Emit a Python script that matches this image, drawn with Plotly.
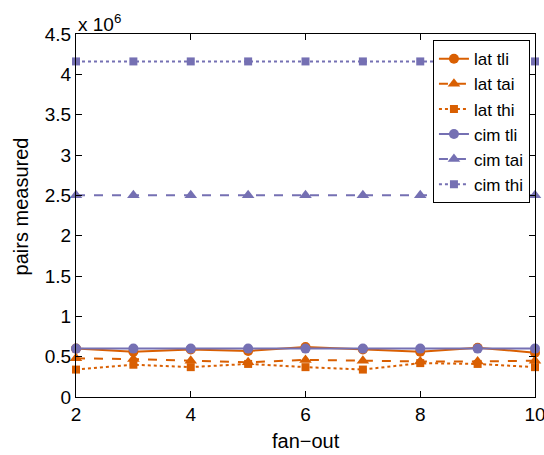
import plotly.graph_objects as go

fanout = [2, 3, 4, 5, 6, 7, 8, 9, 10]
lat_tli = [0.60, 0.56, 0.59, 0.57, 0.62, 0.59, 0.56, 0.61, 0.55]
lat_tai = [0.48, 0.47, 0.45, 0.43, 0.46, 0.45, 0.44, 0.44, 0.45]
lat_thi = [0.34, 0.40, 0.37, 0.41, 0.37, 0.34, 0.42, 0.41, 0.37]
cim_tli = [0.60, 0.60, 0.60, 0.60, 0.60, 0.60, 0.60, 0.60, 0.60]
cim_tai = [2.50, 2.50, 2.50, 2.50, 2.50, 2.50, 2.50, 2.50, 2.50]
cim_thi = [4.16, 4.16, 4.16, 4.16, 4.16, 4.16, 4.16, 4.16, 4.16]
scale = 1e6

ORANGE = "#D95F02"
PURPLE = "#7570B3"

series = [
    ("lat tli", lat_tli, ORANGE, "solid", "circle", 10),
    ("lat tai", lat_tai, ORANGE, "dash", "triangle-up", 11),
    ("lat thi", lat_thi, ORANGE, "dot", "square", 8),
    ("cim tli", cim_tli, PURPLE, "solid", "circle", 10),
    ("cim tai", cim_tai, PURPLE, "dash", "triangle-up", 11),
    ("cim thi", cim_thi, PURPLE, "dot", "square", 8),
]

fig = go.Figure()
for name, vals, col, dash, sym, sz in series:
    fig.add_trace(go.Scatter(
        x=fanout, y=[v * scale for v in vals], name=name,
        mode="lines+markers",
        line=dict(color=col, width=2, dash=dash),
        marker=dict(color=col, symbol=sym, size=sz),
        cliponaxis=False,
    ))

FAM = "Liberation Sans, Arial, sans-serif"
tick_font = dict(family=FAM, size=19, color="black")
title_font = dict(family=FAM, size=20, color="black")

fig.update_layout(
    width=544, height=455,
    margin=dict(l=76, r=9, t=34, b=58, autoexpand=False),
    paper_bgcolor="white", plot_bgcolor="white",
    font=tick_font,
    showlegend=True,
    legend=dict(
        x=0.989, y=0.983, xanchor="right", yanchor="top",
        bgcolor="white", bordercolor="black", borderwidth=1,
        font=dict(family=FAM, size=17, color="black"),
        tracegroupgap=0, itemwidth=30,
    ),
    xaxis=dict(
        range=[2, 10], tickvals=[2, 4, 6, 8, 10], ticktext=["2", "4", "6", "8", "10"],
        ticks="inside", ticklen=6, tickcolor="black",
        showline=True, linecolor="black", linewidth=1, mirror="ticks",
        showgrid=False, zeroline=False, automargin=False,
        tickfont=tick_font, ticklabeloverflow="allow",
    ),
    yaxis=dict(
        range=[0, 4.5e6],
        tickvals=[i * 0.5e6 for i in range(10)],
        ticktext=["0", "0.5", "1", "1.5", "2", "2.5", "3", "3.5", "4", "4.5"],
        ticks="inside", ticklen=6, tickcolor="black",
        showline=True, linecolor="black", linewidth=1, mirror="ticks",
        showgrid=False, zeroline=False, automargin=False,
        tickfont=tick_font, ticklabeloverflow="allow",
    ),
    annotations=[
        dict(x=0, y=1.0, xref="paper", yref="paper", xanchor="left", yanchor="bottom",
             text="x 10<sup>6</sup>", showarrow=False, font=tick_font, yshift=-3),
        dict(x=0.5, y=0, xref="paper", yref="paper", xanchor="center", yanchor="middle",
             text="fan\u2212out", showarrow=False, font=title_font, yshift=-44),
        dict(x=0, y=0.525, xref="paper", yref="paper", xanchor="center", yanchor="middle",
             text="pairs measured", showarrow=False, font=title_font, textangle=-90,
             xshift=-55),
    ],
)

fig.write_html(
    "out.html",
    config={"displayModeBar": False},
    post_script="document.body.style.margin='0';document.body.style.padding='0';",
)
